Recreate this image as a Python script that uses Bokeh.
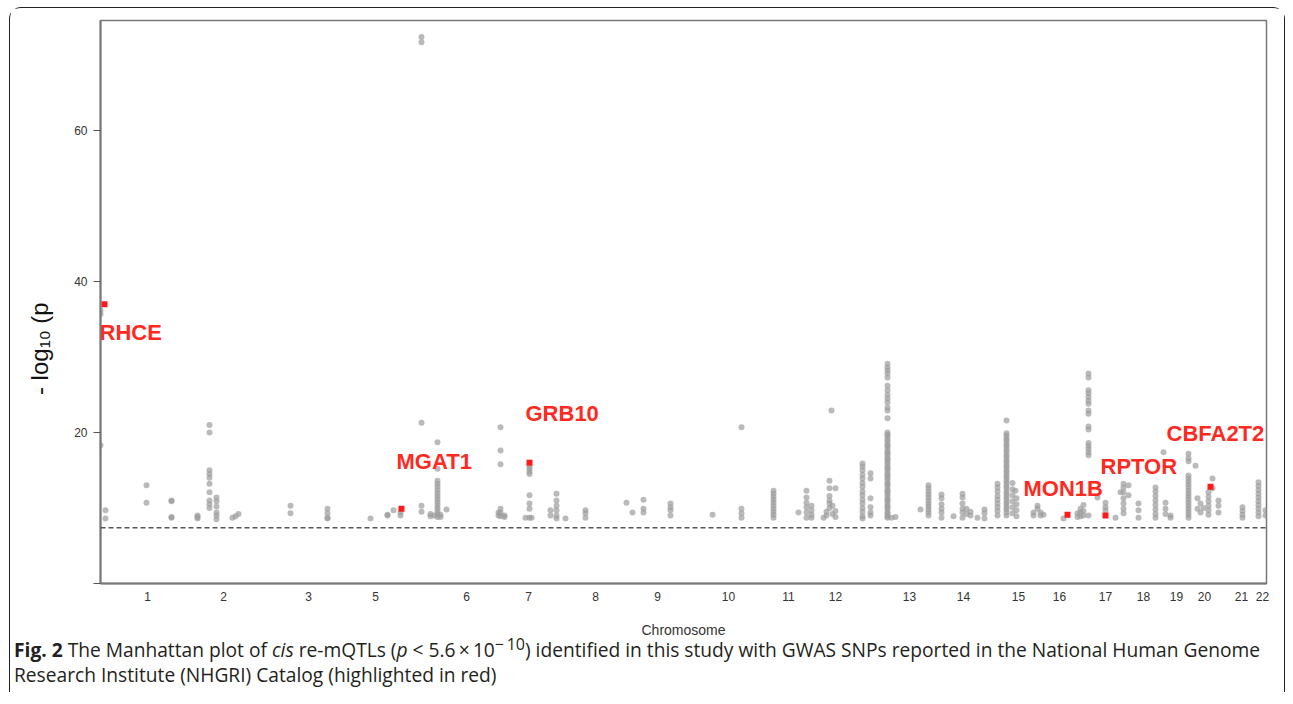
from bokeh.plotting import figure
from bokeh.models import Range1d, FixedTicker, Span, Div, ColumnDataSource
from bokeh.layouts import column
from bokeh.core.properties import value
from bokeh.embed import file_html
from bokeh.resources import INLINE

# ---------------- data ----------------
chrom_names = ["1", "2", "3", "5", "6", "7", "8", "9", "10", "11", "12",
               "13", "14", "15", "16", "17", "18", "19", "20", "21", "22"]
chrom_centers = [47, 123, 208, 275, 366, 428, 495, 557, 628, 688, 735,
                 809, 863, 918, 959, 1005, 1043, 1076, 1104, 1141, 1162]

# cumulative genomic position of each SNP stack, and the -log10(p) values in it
col_pos = [0, 5, 46, 71, 97, 109, 116, 132, 135, 138, 190, 227, 270, 287, 293,
           300, 321, 330, 334, 337, 340, 346, 398, 400, 404, 425, 429, 431,
           450, 456, 465, 485, 526, 532, 543, 570, 612, 641, 673, 698, 706,
           711, 723, 726, 729, 731, 732, 735, 762, 770, 787, 791, 795, 820,
           828, 841, 853, 862, 866, 870, 877, 884, 897, 906, 912, 915, 916,
           933, 937, 940, 943, 963, 977, 980, 983, 988, 997, 1005, 1015,
           1020, 1023, 1028, 1038, 1055, 1063, 1065, 1070, 1088, 1095, 1097,
           1100, 1103, 1108, 1112, 1118, 1142, 1158, 1165]
col_logp = [
    [36.2, 35.7, 18.3],
    [9.7, 8.6],
    [13.0, 10.7],
    [11.0, 10.9, 8.7, 8.8],
    [9.0, 8.6, 8.8],
    [21.0, 20.0, 15.0, 14.5, 14.0, 13.2, 12.1, 11.0, 10.5, 10.0],
    [11.4, 10.9, 10.2, 9.4, 9.0, 8.5],
    [8.7],
    [8.9],
    [9.2],
    [10.3, 9.3],
    [9.9, 9.3, 8.6, 8.7],
    [8.6],
    [9.1, 9.0],
    [9.7],
    [9.4, 9.0],
    [72.4, 71.7, 21.3, 10.3, 9.5],
    [9.2, 8.9],
    [9.0],
    [18.7, 15.2, 13.6, 13.2, 12.8, 12.4, 12.0, 11.6, 11.2, 10.8, 10.4, 10.0, 9.6, 9.2, 8.8],
    [9.1, 8.8],
    [9.8],
    [9.4, 9.0],
    [20.7, 17.6, 15.8, 9.9, 9.4, 8.9],
    [9.0, 8.8],
    [8.7],
    [15.5, 15.2, 14.8, 14.5, 11.7, 10.6, 9.9, 8.7],
    [8.7],
    [9.7, 9.0],
    [11.9, 11.0, 10.3, 9.7, 9.0, 8.6],
    [8.6],
    [9.7, 9.3, 8.7],
    [10.7],
    [9.4],
    [11.1, 9.9, 9.4],
    [10.6, 10.1, 9.7, 9.0],
    [9.1],
    [20.7, 9.9, 9.3, 8.7],
    [12.3, 11.9, 11.5, 11.1, 10.7, 10.3, 9.9, 9.5, 9.1, 8.7],
    [9.4],
    [12.3, 11.4, 10.7, 10.1, 9.4, 8.7],
    [10.3, 9.7, 9.1, 8.7],
    [8.7],
    [9.0, 9.5],
    [13.6, 12.6, 11.6, 11.0, 10.6, 10.0],
    [22.9],
    [9.2, 10.3],
    [12.6, 9.6, 8.8],
    [15.9, 15.5, 15.0, 14.4, 13.9, 13.3, 12.8, 12.2, 11.7, 11.1, 10.6, 10.0, 9.5, 8.9, 8.6],
    [14.6, 13.9, 11.3, 10.1, 9.4, 9.0],
    [29.1, 28.6, 28.2, 27.8, 27.3, 26.2, 25.6, 25.0, 24.5, 24.0, 23.3, 22.9, 21.9,
     20.0, 19.7, 19.5, 19.1, 18.8, 18.4, 18.2, 17.9, 17.5, 17.3, 17.0, 16.6, 16.4,
     16.1, 15.8, 15.4, 15.2, 14.9, 14.5, 14.3, 14.0, 13.7, 13.3, 13.1, 12.8, 12.4,
     12.2, 11.9, 11.6, 11.2, 11.0, 10.7, 10.3, 10.1, 9.8, 9.4, 9.2, 8.9, 8.7],
    [8.7],
    [8.8],
    [9.8],
    [13.0, 12.6, 12.2, 11.8, 11.4, 11.0, 10.6, 10.2, 9.8, 9.4, 9.0],
    [11.8, 11.3, 10.5, 9.9, 9.4, 8.7],
    [8.9],
    [11.9, 11.4, 10.6, 9.9, 9.4, 8.7],
    [9.9, 9.2],
    [9.0, 9.5],
    [8.7],
    [9.8, 9.3, 8.6],
    [13.2, 12.7, 12.2, 11.6, 11.1, 10.6, 10.1, 9.6, 9.0],
    [21.6, 19.9, 19.6, 19.2, 18.9, 18.5, 18.2, 17.8, 17.5, 17.1, 16.8, 16.4, 16.1,
     15.7, 15.4, 15.0, 14.7, 14.3, 14.0, 13.6, 13.3, 12.9, 12.6, 12.2, 11.9, 11.5,
     11.2, 10.8, 10.5, 10.1, 9.8, 9.4, 9.0],
    [13.3, 12.5, 11.7, 10.9, 10.1, 9.3],
    [12.3],
    [11.3, 10.5, 9.7, 8.9],
    [9.4, 9.0],
    [9.9, 10.3],
    [9.4, 9.0],
    [9.1],
    [8.6],
    [9.3, 8.8],
    [9.9, 9.4, 8.9],
    [10.4, 9.6, 9.0],
    [27.8, 27.3, 25.6, 25.2, 24.7, 24.2, 23.8, 22.9, 22.5, 20.8, 20.4, 18.6, 18.2,
     17.8, 17.4, 17.0, 9.0],
    [11.4],
    [10.7, 10.1, 9.7],
    [8.7],
    [12.1],
    [13.2, 12.7, 12.1, 11.3, 10.6, 9.9, 9.3],
    [13.0, 11.7],
    [10.6, 9.7, 8.7],
    [12.7, 12.2, 11.6, 11.0, 10.4, 9.8, 9.2, 8.7],
    [17.4],
    [10.7, 9.9, 9.2],
    [8.7, 9.0],
    [17.2, 16.6, 16.2, 14.3, 13.9, 13.5, 13.1, 12.7, 12.3, 11.9, 11.5, 11.1, 10.7,
     10.3, 9.9, 9.5, 9.1, 8.7],
    [15.6],
    [11.3, 9.9],
    [10.6, 9.4],
    [10.0],
    [12.1, 11.5, 10.9, 10.3, 9.7, 9.1],
    [13.9, 12.6],
    [11.0, 10.3, 9.4],
    [10.1, 9.6, 9.1, 8.7],
    [13.4, 12.9, 12.4, 11.9, 11.4, 10.9, 10.4, 9.9, 9.4, 8.9],
    [9.7, 9.0],
]

# GWAS catalog SNPs (highlighted)
hit_genes = ["RHCE", "MGAT1", "GRB10", "MON1B", "RPTOR", "CBFA2T2"]
hit_pos = [4, 301, 429, 967, 1005, 1110]
hit_logp = [37.0, 9.9, 16.0, 9.1, 9.0, 12.8]

threshold = 7.4
y_ticks = [0, 20, 40, 60]

# ---------------- styles ----------------
label_dx = [-5, -5, -4, -44, -5, -44]
label_dy = [28, -47, -49, -26, -49, -53]

snp_x = [pos for pos, vals in zip(col_pos, col_logp) for _ in vals]
snp_y = [v for vals in col_logp for v in vals]

p = figure(width=1274, height=633, output_backend="svg", toolbar_location=None,
           x_range=Range1d(0, 1166), y_range=Range1d(0, 74.57),
           min_border_left=90, min_border_right=18, min_border_top=12,
           min_border_bottom=58)
p.grid.visible = False
p.outline_line_color = "#777777"
p.outline_line_width = 1.5

p.scatter(snp_x, snp_y, size=6, marker="circle", fill_color="#9c9c9c",
          fill_alpha=0.7, line_color=None)

p.add_layout(Span(location=threshold, dimension="width", line_color="#555555",
                  line_width=1.5, line_dash="5 3"))

hits = ColumnDataSource(dict(x=hit_pos, y=hit_logp, gene=hit_genes,
                             dx=label_dx, dy=label_dy))
p.scatter("x", "y", source=hits, size=6, marker="square", fill_color="#ff1a1a",
          line_color=None)
p.text("x", "y", text="gene", source=hits, x_offset="dx", y_offset="dy",
       text_font=value("Liberation Sans"), text_font_style="bold",
       text_font_size="22px", text_color="#ff2a1f", text_align="left",
       text_baseline="middle")

# axes
xa = p.xaxis[0]
xa.ticker = FixedTicker(ticks=chrom_centers)
xa.major_label_overrides = {c: n for c, n in zip(chrom_centers, chrom_names)}
xa.major_tick_line_color = None
xa.minor_tick_line_color = None
xa.axis_line_color = "#777777"
xa.axis_line_width = 2
xa.major_label_text_font = "Liberation Sans"
xa.major_label_text_font_size = "12px"
xa.major_label_text_color = "#333333"
xa.major_label_standoff = 2
xa.axis_label = "Chromosome"
xa.axis_label_text_font = "Liberation Sans"
xa.axis_label_text_font_style = "normal"
xa.axis_label_text_font_size = "14px"
xa.axis_label_text_color = "#333333"
xa.axis_label_standoff = 18

ya = p.yaxis[0]
ya.ticker = FixedTicker(ticks=y_ticks)
ya.major_label_overrides = {0: ""}
ya.minor_tick_line_color = None
ya.major_tick_in = 0
ya.major_tick_out = 7
ya.major_tick_line_color = "#555555"
ya.axis_line_color = "#777777"
ya.axis_line_width = 2
ya.major_label_text_font = "Liberation Sans"
ya.major_label_text_font_size = "12px"
ya.major_label_text_color = "#333333"
ya.major_label_standoff = 6
ya.axis_label = "- log\u2081\u2080 (p" + "\u00a0" * 14
ya.axis_label_text_font = "Liberation Sans, DejaVu Sans"
ya.axis_label_text_font_style = "normal"
ya.axis_label_text_font_size = "24px"
ya.axis_label_text_color = "#111111"
ya.axis_label_standoff = 18

caption = Div(
    text=('<b>Fig. 2</b> The Manhattan plot of <i>cis</i> re-mQTLs '
          '(<i>p</i> &lt; 5.6\u2009\u00d7\u200910<sup>\u2212\u200910</sup>) identified in this study '
          'with GWAS SNPs reported in the National Human Genome<br>'
          'Research Institute (NHGRI) Catalog (highlighted in red)'),
    width=1274, height=60, margin=(-9, 0, 0, 0),
    styles={"font-family": "'Open Sans', sans-serif", "font-size": "19.2px",
            "line-height": "25px", "color": "#231f20", "padding-left": "4px"})

layout = column(p, caption, margin=(7, 0, 0, 9),
                styles={"border": "1.5px solid #222222", "border-bottom": "none",
                        "border-radius": "12px 12px 0 0"})

open("out.html", "w").write(file_html(layout, INLINE))
